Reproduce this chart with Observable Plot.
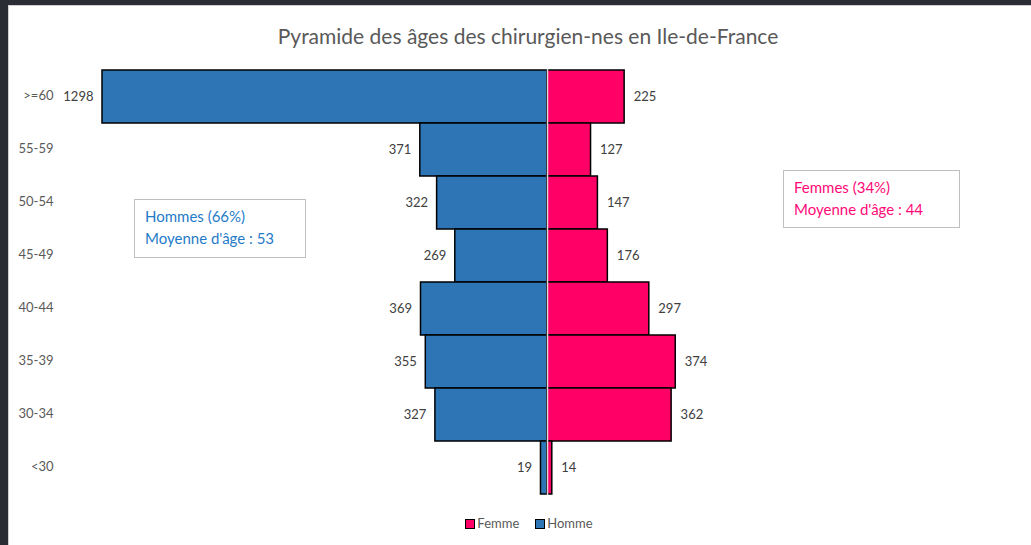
<!DOCTYPE html>
<html>
<head>
<meta charset="utf-8">
<script src="https://cdn.jsdelivr.net/npm/d3@7"></script>
<script src="https://cdn.jsdelivr.net/npm/@observablehq/plot@0.6"></script>
<style>
  html, body { margin: 0; padding: 0; width: 1031px; height: 545px; overflow: hidden; background: #2a2d33; }
  #sheet { position: absolute; left: 8px; top: 5px; width: 1023px; height: 540px; background: #fff; border-left: 1px solid #d0d0d0; border-top: 1px solid #d0d0d0; box-sizing: border-box; font-family: Lato, "Open Sans", sans-serif; }
  #title { position: absolute; left: 0; width: 1038px; top: 17px; text-align: center; font-size: 21px; color: #595959; }
  #chart { position: absolute; left: 0; top: 52px; }
  #chart svg { display: block; }
  .note { position: absolute; border: 1.5px solid #bfbfbf; background: #fff; font-size: 15px; line-height: 22px; padding: 5px 10px; box-sizing: border-box; }
  #legend { position: absolute; left: 0; width: 1040px; top: 509px; text-align: center; font-size: 13px; color: #595959; }
  #legend span.sw { display: inline-block; width: 8px; height: 8px; border: 1.5px solid #000; vertical-align: -1px; margin-right: 2px; }
  #legend span.item { margin: 0 8px; }
</style>
</head>
<body>
<div id="sheet">
  <div id="title">Pyramide des âges des chirurgien-nes en Ile-de-France</div>
  <div id="chart"></div>
  <div class="note" id="nh" style="left:125px; top:193px; width:172px; height:59px; color:#1f7bc8;">Hommes (66%)<br>Moyenne d'âge : 53</div>
  <div class="note" id="nf" style="left:774px; top:164px; width:177px; height:58px; color:#ff0a78;">Femmes (34%)<br>Moyenne d'âge : 44</div>
  <div id="legend"></div>
</div>
<script>
const ageGroups = [">=60", "55-59", "50-54", "45-49", "40-44", "35-39", "30-34", "<30"];
const hommes = [1298, 371, 322, 269, 369, 355, 327, 19];
const femmes = [225, 127, 147, 176, 297, 374, 362, 14];
const seriesNames = ["Femme", "Homme"];
const seriesColors = ["#ff0066", "#2e75b6"];

const rows = [];
ageGroups.forEach((g, i) => {
  rows.push({age: g, sexe: "Homme", value: hommes[i], signed: -hommes[i]});
  rows.push({age: g, sexe: "Femme", value: femmes[i], signed: femmes[i]});
});
const maxV = d3.max(hommes);

const plot = Plot.plot({
  width: 1012,
  height: 449,
  marginLeft: 93,
  marginRight: 29,
  marginTop: 11,
  marginBottom: 12,
  style: {fontFamily: "Lato, 'Open Sans', sans-serif", fontSize: "13px", color: "#595959", background: "transparent"},
  x: {domain: [-maxV, maxV], axis: null},
  y: {domain: ageGroups, padding: 0, label: null},
  color: {domain: seriesNames, range: seriesColors},
  marks: [
    Plot.axisY({tickSize: 0, tickPadding: 49, fontSize: 13, fill: "#595959", dy: -1}),
    Plot.barX(rows, {x1: 0, x2: "signed", y: "age", fill: "sexe", stroke: "#000", strokeWidth: 1.5}),
    Plot.ruleX([0], {stroke: "#d9d9d9", strokeWidth: 1.5}),
    Plot.text(rows.filter(d => d.sexe === "Homme"), {x: "signed", y: "age", text: d => String(d.value), textAnchor: "end", dx: -9, fill: "#404040", fontSize: 13}),
    Plot.text(rows.filter(d => d.sexe === "Femme"), {x: "signed", y: "age", text: d => String(d.value), textAnchor: "start", dx: 9, fill: "#404040", fontSize: 13})
  ]
});
document.getElementById("chart").appendChild(plot);

const legend = document.getElementById("legend");
legend.innerHTML = seriesNames.map((n, i) =>
  `<span class="item"><span class="sw" style="background:${seriesColors[i]}"></span>${n}</span>`).join("");
</script>
</body>
</html>
